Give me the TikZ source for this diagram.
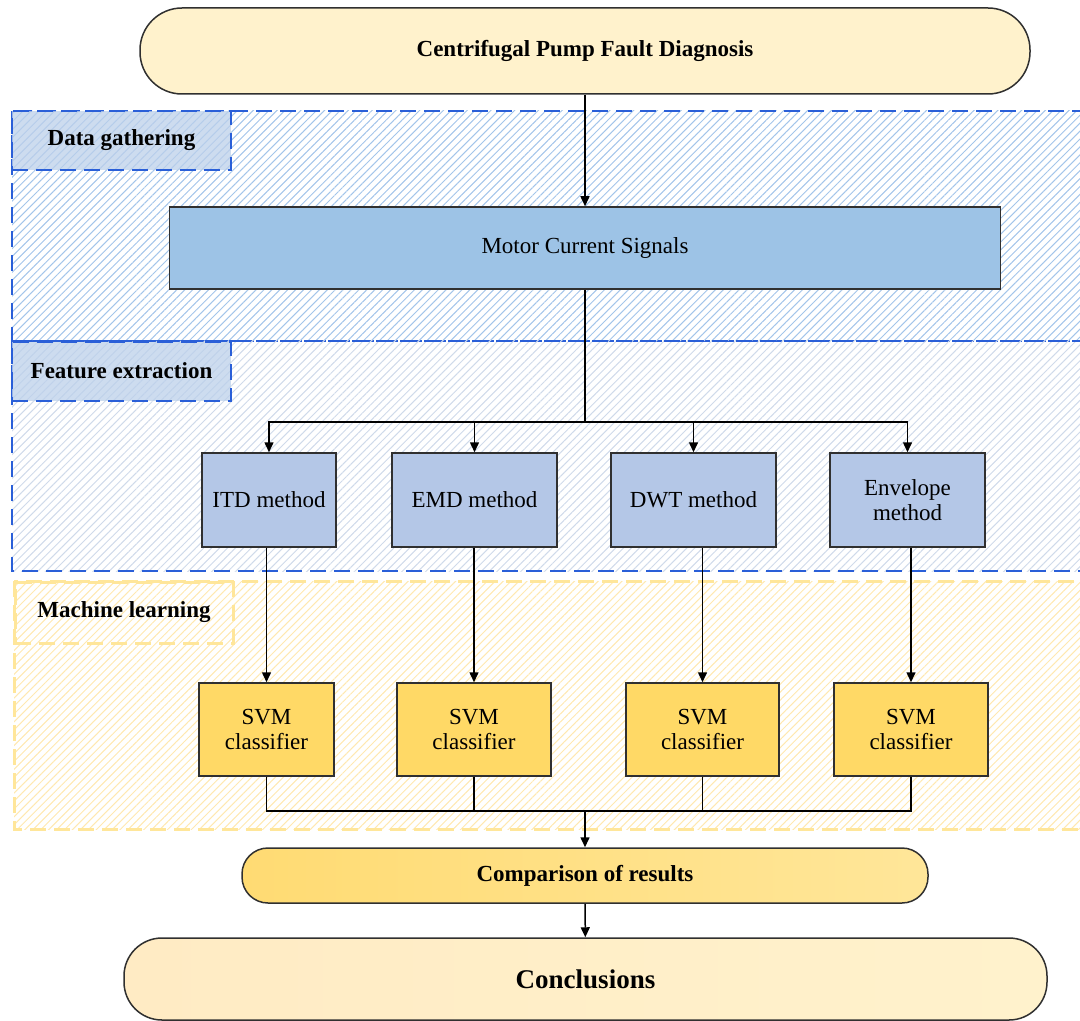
\documentclass[tikz,border=0pt]{standalone}
\usepackage{fontspec}
\IfFontExistsTF{LiberationSerif-Regular.ttf}
  {\setmainfont{LiberationSerif-Regular.ttf}[BoldFont=LiberationSerif-Bold.ttf]}
  {\setmainfont{Liberation Serif}}
\usetikzlibrary{arrows.meta,patterns.meta}

\definecolor{capfill}{HTML}{FFF2CC}
\definecolor{mcsfill}{HTML}{9DC3E6}
\definecolor{methodfill}{HTML}{B4C7E7}
\definecolor{svmfill}{HTML}{FFD966}
\definecolor{cmpleft}{HTML}{FFDB73}
\definecolor{cmpright}{HTML}{FFE699}
\definecolor{concleft}{HTML}{FFEBC4}
\definecolor{boxline}{HTML}{303030}
\definecolor{dashblue}{HTML}{2A5FD8}
\definecolor{dashyellow}{HTML}{FFE69A}
\definecolor{hatchblue}{HTML}{A3C5EA}
\definecolor{hatchgray}{HTML}{CFDAEA}
\definecolor{hatchyellow}{HTML}{FFE8B0}
\definecolor{tagblue}{HTML}{BCD0EA}

\begin{document}
\begin{tikzpicture}[x=0.5pt, y=-0.5pt,
    >={Triangle[length=5pt,width=4.5pt]},
    every node/.style={font=\fontsize{11.5}{12.5}\selectfont},
    plainbox/.style={draw=boxline, line width=0.75pt, align=center, inner sep=2pt},
    mcsbox/.style={plainbox, fill=mcsfill, minimum width=415.5pt, minimum height=41pt},
    methodbox/.style={plainbox, fill=methodfill, minimum height=47pt},
    svmbox/.style={plainbox, fill=svmfill, minimum height=46.5pt},
    capsule/.style={plainbox, font=\bfseries\fontsize{11.5}{12.5}\selectfont},
    hatch/.style={pattern={Lines[angle=45,distance=2.8pt,line width=0.5pt]}},
    region/.style={dash pattern=on 8pt off 4pt, line width=1pt},
    tagbox/.style={region, minimum width=109.5pt, minimum height=29.5pt, font=\bfseries\fontsize{11.5}{12.5}\selectfont},
    link/.style={line width=0.75pt}]

  \useasboundingbox (0,0) rectangle (1080,1021);
  \clip (0,0) rectangle (1080,1021);

  % stages in the background
  \draw[region, draw=dashblue, hatch, pattern color=hatchblue] (12,111) rectangle (1100,341);
  \draw[region, draw=dashblue, hatch, pattern color=hatchgray] (12,341) rectangle (1100,571);
  \draw[region, draw=dashyellow, line width=1.5pt, hatch, pattern color=hatchyellow] (14,581) rectangle (1100,829);

  \node[tagbox, draw=dashblue, fill=tagblue, fill opacity=0.75, text opacity=1] at (121.5,140.5) (tagdata) {Data gathering};
  \node[tagbox, draw=dashblue, fill=tagblue, fill opacity=0.75, text opacity=1] at (121.5,371) (tagfeat) {Feature extraction};
  \node[tagbox, draw=dashyellow, line width=1.5pt, minimum width=109pt, minimum height=30.5pt] at (124,612.5) (tagml) {Machine learning};

  % flow
  \node[capsule, fill=capfill, rounded corners=21pt, minimum width=445pt, minimum height=43pt] at (585,51) (title) {Centrifugal Pump Fault Diagnosis};
  \node[mcsbox] at (585,248) (mcs) {Motor Current Signals};

  \node[methodbox, minimum width=67pt] at (269,500) (itd) {ITD method};
  \node[methodbox, minimum width=82.5pt] at (474.5,500) (emd) {EMD method};
  \node[methodbox, minimum width=82.5pt] at (693.5,500) (dwt) {DWT method};
  \node[methodbox, minimum width=77.5pt] at (907.5,500) (env) {Envelope\\method};

  \node[svmbox, minimum width=67.5pt] at (266.5,729.5) (svm1) {SVM\\classifier};
  \node[svmbox, minimum width=77pt] at (474,729.5) (svm2) {SVM\\classifier};
  \node[svmbox, minimum width=76.5pt] at (702.5,729.5) (svm3) {SVM\\classifier};
  \node[svmbox, minimum width=77pt] at (911,729.5) (svm4) {SVM\\classifier};

  \node[capsule, left color=cmpleft, right color=cmpright, rounded corners=13pt, minimum width=343pt, minimum height=27.5pt] at (585,875.5) (cmp) {Comparison of results};
  \node[capsule, left color=concleft, right color=capfill, rounded corners=19pt, minimum width=461.5pt, minimum height=41pt, font=\bfseries\fontsize{13.5}{15}\selectfont] at (585.5,979) (concl) {Conclusions};

  \coordinate (split) at (585,422);
  \coordinate (join) at (585,811);

  \draw[link, ->] (title) -- (mcs);
  \draw[link] (mcs) -- (split);
  \draw[link, ->] (split) -| (itd);
  \draw[link, ->] (split) -| (emd);
  \draw[link, ->] (split) -| (dwt);
  \draw[link, ->] (split) -| (env);

  \draw[link, ->] (itd.south -| svm1) -- (svm1);
  \draw[link, ->] (emd.south -| svm2) -- (svm2);
  \draw[link, ->] (dwt.south -| svm3) -- (svm3);
  \draw[link, ->] (env.south -| svm4) -- (svm4);

  \draw[link] (svm1) |- (join);
  \draw[link] (svm2) |- (join);
  \draw[link] (svm3) |- (join);
  \draw[link] (svm4) |- (join);
  \draw[link, ->] (join) -- (cmp);
  \draw[link, ->] (cmp) -- (concl);
\end{tikzpicture}
\end{document}
